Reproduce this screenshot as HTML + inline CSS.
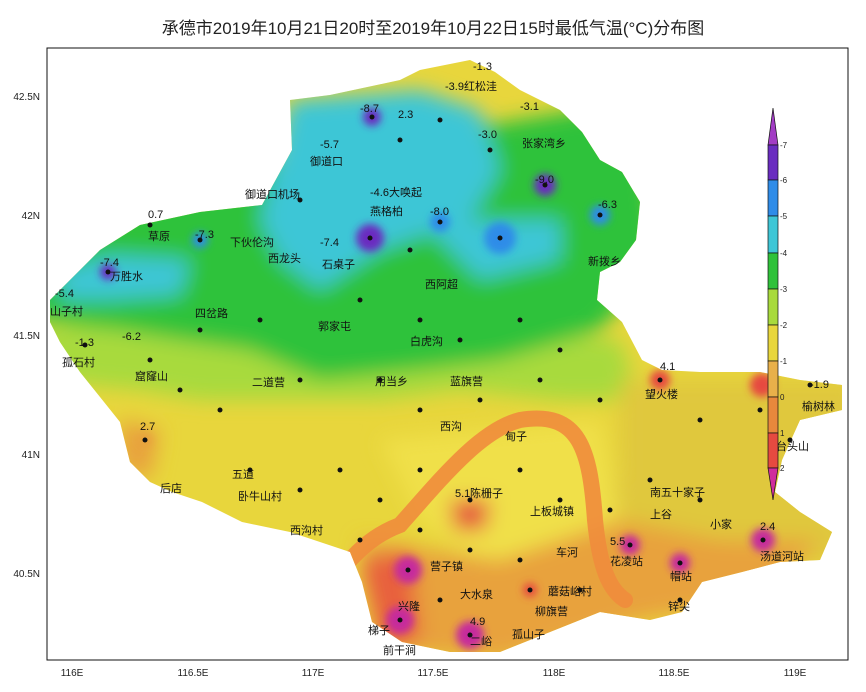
<!DOCTYPE html>
<html><head><meta charset="utf-8"><style>
body{margin:0;background:#fff;width:866px;height:687px;overflow:hidden;font-family:"Liberation Sans","Noto Sans CJK SC",sans-serif}
</style></head><body>
<svg width="866" height="687" viewBox="0 0 866 687" xmlns="http://www.w3.org/2000/svg" font-family="Liberation Sans, Noto Sans CJK SC, sans-serif">
<rect width="866" height="687" fill="#fff"/>
<text x="433" y="34" text-anchor="middle" font-size="17" fill="#222">承德市2019年10月21日20时至2019年10月22日15时最低气温(°C)分布图</text>
<defs>
<clipPath id="c"><path d="M50,300 L100,250 L140,225 L200,212 L262,205 L292,150 L290,100 L330,95 L400,80 L420,70 L470,60 L495,72 L520,90 L560,110 L582,132 L600,160 L622,172 L640,202 L636,240 L620,262 L600,272 L597,300 L622,322 L642,360 L662,370 L700,372 L760,372 L800,380 L842,385 L842,410 L800,420 L782,460 L775,492 L800,512 L832,532 L820,560 L780,562 L742,572 L702,582 L682,612 L650,620 L600,612 L550,632 L500,652 L450,652 L402,642 L372,622 L362,582 L350,552 L320,542 L290,532 L242,522 L202,502 L172,492 L150,482 L130,462 L120,422 L80,372 L60,342 L50,322 Z"/></clipPath>
<filter id="b"><feGaussianBlur stdDeviation="10"/></filter>
<filter id="b2"><feGaussianBlur stdDeviation="4"/></filter>
</defs>
<g clip-path="url(#c)">
<rect x="0" y="0" width="866" height="687" fill="#e8d63c"/>
<g filter="url(#b)">
<path d="M30,330 L140,320 L300,330 L420,330 L520,330 L620,340 L640,400 L560,400 L460,390 L380,400 L300,400 L200,400 L140,390 L30,380 Z" fill="#a8da3c"/>
<path d="M30,200 L640,100 L660,260 L600,330 L500,360 L420,370 L320,380 L250,350 L180,340 L120,330 L30,320 Z" fill="#2fc23a"/>
<path d="M290,100 L420,90 L480,110 L500,170 L470,220 L380,250 L320,290 L280,260 L260,220 Z" fill="#3ec6d6"/>
<path d="M420,220 L560,220 L560,260 L480,280 Z" fill="#3ec6d6"/>
<path d="M60,270 L110,255 L190,260 L180,295 L110,300 L60,300 Z" fill="#3ec6d6"/>
<path d="M620,380 L860,380 L860,560 L640,580 L580,560 L620,480 Z" fill="#e0c83c"/>
<path d="M380,440 L600,420 L620,520 L560,560 L480,560 L420,520 Z" fill="#f0e04a"/>
<path d="M360,540 L500,560 L620,520 L720,540 L820,540 L760,600 L640,620 L500,660 L380,650 Z" fill="#e8a23c"/>
<path d="M360,560 L410,550 L420,640 L380,650 Z" fill="#e8603c"/>
<path d="M120,420 L160,430 L150,480 L120,470 Z" fill="#e8a23c"/>
<path d="M450,500 L490,500 L485,530 L455,530 Z" fill="#e64a40"/>
</g>
<g filter="url(#b2)">
<circle cx="370" cy="238" r="14" fill="#6a2cc0"/><circle cx="545" cy="185" r="11" fill="#6a2cc0"/>
<circle cx="372" cy="117" r="9" fill="#6a2cc0"/><circle cx="108" cy="272" r="8" fill="#6a2cc0"/>
<circle cx="500" cy="238" r="16" fill="#2f8ce8"/><circle cx="200" cy="240" r="8" fill="#2f8ce8"/>
<circle cx="440" cy="222" r="10" fill="#2f8ce8"/><circle cx="600" cy="215" r="10" fill="#2f8ce8"/>
<circle cx="660" cy="380" r="10" fill="#e64a40"/><circle cx="762" cy="385" r="12" fill="#e64a40"/>
<circle cx="763" cy="540" r="12" fill="#c62c9c"/><circle cx="630" cy="545" r="10" fill="#c62c9c"/>
<circle cx="680" cy="563" r="10" fill="#c62c9c"/><circle cx="408" cy="570" r="14" fill="#c62c9c"/>
<circle cx="400" cy="620" r="14" fill="#c62c9c"/><circle cx="470" cy="635" r="14" fill="#c62c9c"/>
<circle cx="530" cy="590" r="7" fill="#e64a40"/><circle cx="145" cy="440" r="7" fill="#e8a23c"/>
</g>
<path d="M300,625 C340,570 360,540 400,525 C440,480 480,430 520,420 C580,410 590,450 595,520 C600,570 610,590 625,600" fill="none" stroke="#f08c3c" stroke-width="16" stroke-linecap="round" opacity="0.9"/>
</g>
<g fill="#111" font-size="11">
<g fill="#111">
<circle cx="372" cy="117" r="2.5"/><circle cx="400" cy="140" r="2.5"/><circle cx="440" cy="120" r="2.5"/><circle cx="490" cy="150" r="2.5"/><circle cx="545" cy="185" r="2.5"/><circle cx="370" cy="238" r="2.5"/><circle cx="300" cy="200" r="2.5"/><circle cx="200" cy="240" r="2.5"/><circle cx="108" cy="272" r="2.5"/><circle cx="150" cy="225" r="2.5"/><circle cx="500" cy="238" r="2.5"/><circle cx="440" cy="222" r="2.5"/><circle cx="410" cy="250" r="2.5"/><circle cx="600" cy="215" r="2.5"/><circle cx="360" cy="300" r="2.5"/><circle cx="420" cy="320" r="2.5"/><circle cx="460" cy="340" r="2.5"/><circle cx="520" cy="320" r="2.5"/><circle cx="560" cy="350" r="2.5"/><circle cx="260" cy="320" r="2.5"/><circle cx="200" cy="330" r="2.5"/><circle cx="150" cy="360" r="2.5"/><circle cx="85" cy="345" r="2.5"/><circle cx="180" cy="390" r="2.5"/><circle cx="220" cy="410" r="2.5"/><circle cx="145" cy="440" r="2.5"/><circle cx="300" cy="380" r="2.5"/><circle cx="380" cy="380" r="2.5"/><circle cx="420" cy="410" r="2.5"/><circle cx="480" cy="400" r="2.5"/><circle cx="540" cy="380" r="2.5"/><circle cx="600" cy="400" r="2.5"/><circle cx="660" cy="380" r="2.5"/><circle cx="700" cy="420" r="2.5"/><circle cx="760" cy="410" r="2.5"/><circle cx="810" cy="385" r="2.5"/><circle cx="790" cy="440" r="2.5"/><circle cx="650" cy="480" r="2.5"/><circle cx="700" cy="500" r="2.5"/><circle cx="250" cy="470" r="2.5"/><circle cx="300" cy="490" r="2.5"/><circle cx="340" cy="470" r="2.5"/><circle cx="380" cy="500" r="2.5"/><circle cx="420" cy="470" r="2.5"/><circle cx="470" cy="500" r="2.5"/><circle cx="520" cy="470" r="2.5"/><circle cx="560" cy="500" r="2.5"/><circle cx="610" cy="510" r="2.5"/><circle cx="360" cy="540" r="2.5"/><circle cx="420" cy="530" r="2.5"/><circle cx="470" cy="550" r="2.5"/><circle cx="520" cy="560" r="2.5"/><circle cx="630" cy="545" r="2.5"/><circle cx="680" cy="563" r="2.5"/><circle cx="763" cy="540" r="2.5"/><circle cx="408" cy="570" r="2.5"/><circle cx="440" cy="600" r="2.5"/><circle cx="400" cy="620" r="2.5"/><circle cx="470" cy="635" r="2.5"/><circle cx="530" cy="590" r="2.5"/><circle cx="580" cy="590" r="2.5"/><circle cx="680" cy="600" r="2.5"/>
</g>
<text x="473" y="70">-1.3</text><text x="445" y="90">-3.9红松洼</text><text x="360" y="112">-8.7</text><text x="398" y="118">2.3</text><text x="520" y="110">-3.1</text><text x="320" y="148">-5.7</text><text x="310" y="165">御道口</text><text x="522" y="147">张家湾乡</text><text x="478" y="138">-3.0</text><text x="535" y="183">-9.0</text><text x="245" y="198">御道口机场</text><text x="370" y="196">-4.6大唤起</text><text x="148" y="218">0.7</text><text x="148" y="240">草原</text><text x="195" y="238">-7.3</text><text x="230" y="246">下伙伦沟</text><text x="370" y="215">燕格柏</text><text x="430" y="215">-8.0</text><text x="320" y="246">-7.4</text><text x="322" y="268">石桌子</text><text x="268" y="262">西龙头</text><text x="100" y="266">-7.4</text><text x="110" y="280">万胜水</text><text x="55" y="297">-5.4</text><text x="50" y="315">山子村</text><text x="598" y="208">-6.3</text><text x="588" y="265">新拨乡</text><text x="425" y="288">西阿超</text><text x="75" y="346">-1.3</text><text x="62" y="366">孤石村</text><text x="122" y="340">-6.2</text><text x="135" y="380">窟窿山</text><text x="195" y="317">四岔路</text><text x="318" y="330">郭家屯</text><text x="410" y="345">白虎沟</text><text x="252" y="386">二道营</text><text x="375" y="385">用当乡</text><text x="450" y="385">蓝旗营</text><text x="660" y="370">4.1</text><text x="645" y="398">望火楼</text><text x="810" y="388">-1.9</text><text x="802" y="410">榆树林</text><text x="776" y="450">台头山</text><text x="140" y="430">2.7</text><text x="160" y="492">后店</text><text x="232" y="478">五道</text><text x="238" y="500">卧牛山村</text><text x="290" y="534">西沟村</text><text x="440" y="430">西沟</text><text x="505" y="440">甸子</text><text x="455" y="497">5.1</text><text x="470" y="497">陈栅子</text><text x="530" y="515">上板城镇</text><text x="650" y="496">南五十家子</text><text x="650" y="518">上谷</text><text x="710" y="528">小家</text><text x="610" y="545">5.5</text><text x="760" y="530">2.4</text><text x="760" y="560">汤道河站</text><text x="430" y="570">营子镇</text><text x="460" y="598">大水泉</text><text x="398" y="610">兴隆</text><text x="368" y="634">梯子</text><text x="383" y="654">前干涧</text><text x="470" y="625">4.9</text><text x="470" y="645">二峪</text><text x="512" y="638">孤山子</text><text x="535" y="615">柳旗营</text><text x="548" y="595">蘑菇峪村</text><text x="556" y="556">车河</text><text x="610" y="565">花凌站</text><text x="668" y="610">锌尖</text><text x="670" y="580">帽站</text>
</g>
<rect x="47" y="48" width="801" height="612" fill="none" stroke="#111" stroke-width="1"/>
<g font-size="10" fill="#222">
<text x="40" y="100" text-anchor="end">42.5N</text><text x="40" y="219" text-anchor="end">42N</text><text x="40" y="339" text-anchor="end">41.5N</text><text x="40" y="458" text-anchor="end">41N</text><text x="40" y="577" text-anchor="end">40.5N</text>
<text x="72" y="676" text-anchor="middle">116E</text><text x="193" y="676" text-anchor="middle">116.5E</text><text x="313" y="676" text-anchor="middle">117E</text><text x="433" y="676" text-anchor="middle">117.5E</text><text x="554" y="676" text-anchor="middle">118E</text><text x="674" y="676" text-anchor="middle">118.5E</text><text x="795" y="676" text-anchor="middle">119E</text>
</g>
<g stroke="#111" stroke-width="0.7">
<path d="M773,108 L768,145 L778,145 Z" fill="#a23cc4"/>
<rect x="768" y="145" width="10" height="35" fill="#6a2cc0"/><rect x="768" y="180" width="10" height="36" fill="#2f8ce8"/><rect x="768" y="216" width="10" height="37" fill="#3ec6d6"/><rect x="768" y="253" width="10" height="36" fill="#2fc23a"/><rect x="768" y="289" width="10" height="36" fill="#a8da3c"/><rect x="768" y="325" width="10" height="36" fill="#e8d63c"/><rect x="768" y="361" width="10" height="36" fill="#e8b04a"/><rect x="768" y="397" width="10" height="36" fill="#e8883c"/><rect x="768" y="433" width="10" height="35" fill="#e64a40"/>
<path d="M768,468 L778,468 L773,500 Z" fill="#d02c9c"/>
</g>
<g font-size="8" fill="#222"><text x="780" y="148">-7</text><text x="780" y="183">-6</text><text x="780" y="219">-5</text><text x="780" y="256">-4</text><text x="780" y="292">-3</text><text x="780" y="328">-2</text><text x="780" y="364">-1</text><text x="780" y="400">0</text><text x="780" y="436">1</text><text x="780" y="471">2</text></g>
</svg>
</body></html>
